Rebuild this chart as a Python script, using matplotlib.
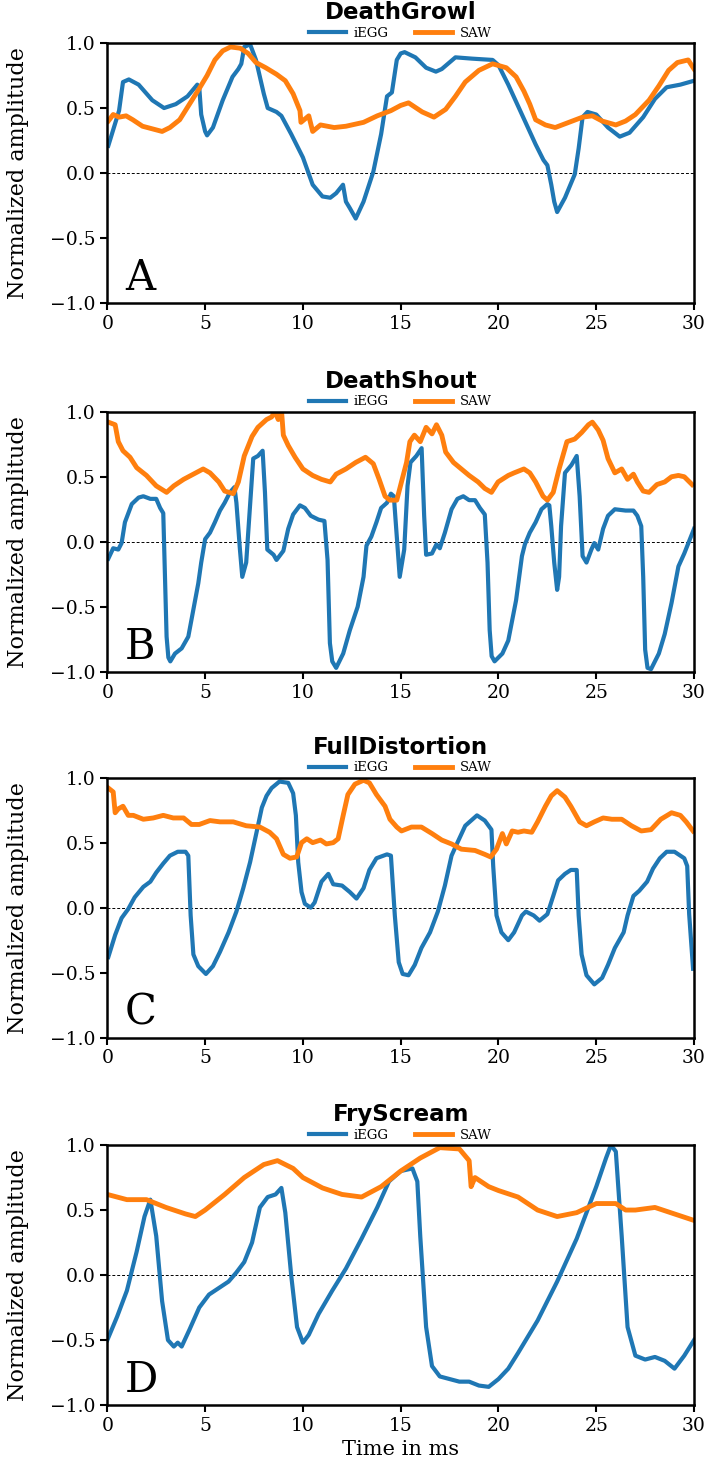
import matplotlib
matplotlib.use("Agg")
import matplotlib.pyplot as plt

plt.rcParams['font.family'] = ['DejaVu Serif']

titles = ["DeathGrowl", "DeathShout", "FullDistortion", "FryScream"]
letters = ["A", "B", "C", "D"]
series_names = ["iEGG", "SAW"]
xticks = [0, 5, 10, 15, 20, 25, 30]
yticks = [-1.0, -0.5, 0.0, 0.5, 1.0]

A_egg = [(0.05,0.21),(0.6,0.48),(0.8,0.70),(1.1,0.72),(1.6,0.68),(2.3,0.56),(2.9,0.50),(3.5,0.53),(4.1,0.59),(4.6,0.68),(4.7,0.66),(4.8,0.45),(5.0,0.32),(5.1,0.29),(5.4,0.35),(5.9,0.56),(6.4,0.74),(6.7,0.80),(6.85,0.84),(7.0,0.97),(7.3,0.99),(7.6,0.87),(8.0,0.61),(8.2,0.50),(8.65,0.47),(8.9,0.44),(9.4,0.30),(10.0,0.12),(10.5,-0.09),(11.0,-0.18),(11.4,-0.19),(11.7,-0.155),(12.05,-0.09),(12.2,-0.22),(12.4,-0.27),(12.7,-0.35),(13.1,-0.22),(13.6,0.01),(14.0,0.30),(14.3,0.59),(14.55,0.62),(14.8,0.87),(15.0,0.92),(15.2,0.93),(15.75,0.89),(16.3,0.81),(16.8,0.78),(17.1,0.80),(17.8,0.89),(18.65,0.88),(19.7,0.87),(20.0,0.83),(20.5,0.68),(21.2,0.45),(21.9,0.22),(22.3,0.10),(22.5,0.06),(22.7,-0.09),(22.85,-0.22),(23.0,-0.30),(23.4,-0.19),(23.9,-0.01),(24.1,0.19),(24.3,0.43),(24.55,0.47),(25.0,0.45),(25.6,0.35),(26.2,0.28),(26.7,0.31),(27.4,0.43),(28.0,0.57),(28.6,0.66),(29.3,0.68),(30.0,0.71)]
A_saw = [(0.05,0.40),(0.3,0.45),(0.6,0.43),(0.96,0.44),(1.3,0.41),(1.8,0.36),(2.3,0.34),(2.8,0.32),(3.2,0.35),(3.7,0.41),(4.2,0.53),(4.7,0.65),(5.1,0.75),(5.5,0.87),(5.9,0.94),(6.3,0.97),(6.8,0.96),(7.2,0.92),(7.6,0.85),(8.1,0.81),(8.65,0.76),(9.1,0.71),(9.5,0.61),(9.85,0.48),(9.9,0.39),(10.3,0.44),(10.5,0.32),(10.9,0.37),(11.6,0.35),(12.2,0.36),(13.1,0.39),(13.8,0.44),(14.5,0.48),(15.0,0.52),(15.4,0.54),(16.1,0.47),(16.7,0.43),(17.3,0.49),(17.8,0.59),(18.3,0.70),(19.0,0.79),(19.7,0.84),(20.4,0.81),(20.9,0.74),(21.3,0.63),(21.6,0.53),(21.9,0.41),(22.4,0.37),(22.9,0.35),(23.6,0.39),(24.3,0.43),(24.8,0.44),(25.3,0.40),(26.0,0.37),(26.5,0.40),(27.0,0.45),(27.7,0.56),(28.2,0.67),(28.7,0.79),(29.15,0.85),(29.7,0.87),(30.0,0.80)]

B_egg = [(0.05,-0.13),(0.3,-0.05),(0.56,-0.06),(0.73,-0.01),(0.9,0.15),(1.25,0.29),(1.6,0.34),(1.84,0.35),(2.2,0.33),(2.5,0.33),(2.7,0.26),(2.86,0.22),(2.95,-0.27),(3.03,-0.73),(3.12,-0.89),(3.22,-0.92),(3.46,-0.86),(3.8,-0.82),(4.14,-0.73),(4.4,-0.52),(4.65,-0.32),(4.8,-0.16),(5.0,0.02),(5.25,0.07),(5.5,0.15),(5.76,0.24),(6.0,0.30),(6.27,0.38),(6.5,0.42),(6.6,0.30),(6.78,-0.06),(6.9,-0.27),(7.1,-0.16),(7.26,0.20),(7.46,0.64),(7.7,0.66),(7.94,0.70),(8.06,0.38),(8.18,-0.06),(8.5,-0.10),(8.65,-0.14),(9.0,-0.07),(9.25,0.10),(9.5,0.21),(9.85,0.28),(10.1,0.26),(10.4,0.20),(10.8,0.17),(11.1,0.16),(11.26,-0.14),(11.38,-0.78),(11.5,-0.92),(11.7,-0.97),(12.06,-0.86),(12.4,-0.68),(12.8,-0.50),(13.1,-0.27),(13.25,-0.03),(13.5,0.04),(13.76,0.15),(14.0,0.26),(14.3,0.30),(14.5,0.37),(14.65,0.35),(14.8,0.04),(14.95,-0.27),(15.18,-0.06),(15.35,0.43),(15.5,0.61),(15.8,0.66),(16.07,0.72),(16.2,0.20),(16.3,-0.10),(16.6,-0.09),(16.83,-0.02),(17.0,-0.05),(17.26,0.07),(17.6,0.25),(17.9,0.33),(18.2,0.35),(18.5,0.32),(18.8,0.32),(19.05,0.26),(19.3,0.21),(19.44,-0.16),(19.55,-0.68),(19.65,-0.88),(19.8,-0.92),(20.2,-0.86),(20.5,-0.76),(20.9,-0.45),(21.2,-0.11),(21.35,-0.02),(21.6,0.07),(21.9,0.15),(22.2,0.25),(22.5,0.29),(22.6,0.28),(22.7,0.12),(22.85,-0.16),(23.0,-0.37),(23.1,-0.27),(23.2,0.12),(23.4,0.53),(23.73,0.59),(24.0,0.66),(24.15,0.35),(24.3,-0.11),(24.5,-0.16),(24.75,-0.06),(24.9,-0.01),(25.1,-0.06),(25.35,0.10),(25.6,0.20),(25.95,0.25),(26.5,0.24),(26.9,0.24),(27.1,0.20),(27.3,0.12),(27.4,-0.27),(27.5,-0.83),(27.62,-0.97),(27.8,-0.98),(28.2,-0.86),(28.5,-0.71),(28.85,-0.47),(29.2,-0.19),(29.5,-0.09),(30.0,0.10)]
B_saw = [(0.05,0.92),(0.4,0.90),(0.56,0.77),(0.8,0.70),(1.16,0.65),(1.5,0.57),(2.0,0.51),(2.5,0.43),(3.03,0.38),(3.4,0.43),(3.9,0.48),(4.4,0.52),(4.9,0.56),(5.25,0.53),(5.7,0.46),(6.0,0.39),(6.44,0.37),(6.7,0.46),(7.0,0.66),(7.4,0.81),(7.7,0.88),(8.14,0.94),(8.4,0.96),(8.57,1.0),(8.74,0.94),(8.9,1.02),(9.0,0.82),(9.25,0.74),(9.6,0.65),(10.0,0.56),(10.5,0.51),(10.95,0.48),(11.4,0.46),(11.7,0.52),(12.2,0.56),(12.7,0.61),(13.2,0.65),(13.6,0.60),(13.9,0.48),(14.2,0.35),(14.45,0.32),(14.8,0.32),(15.04,0.46),(15.3,0.61),(15.47,0.77),(15.7,0.82),(16.0,0.77),(16.3,0.88),(16.6,0.83),(16.83,0.90),(17.1,0.82),(17.3,0.69),(17.7,0.61),(18.1,0.56),(18.5,0.51),(18.96,0.46),(19.3,0.41),(19.64,0.38),(19.98,0.46),(20.5,0.51),(20.8,0.53),(21.3,0.56),(21.6,0.53),(21.9,0.46),(22.28,0.35),(22.5,0.32),(22.8,0.38),(23.1,0.56),(23.5,0.77),(23.9,0.79),(24.25,0.84),(24.6,0.90),(24.8,0.92),(25.1,0.86),(25.35,0.78),(25.6,0.64),(25.95,0.53),(26.3,0.56),(26.6,0.48),(26.9,0.52),(27.1,0.46),(27.4,0.39),(27.7,0.38),(28.1,0.44),(28.5,0.46),(28.85,0.50),(29.2,0.51),(29.5,0.50),(29.9,0.44)]

C_egg = [(0.05,-0.38),(0.4,-0.21),(0.73,-0.08),(1.07,-0.01),(1.4,0.08),(1.84,0.16),(2.2,0.20),(2.5,0.27),(2.86,0.34),(3.2,0.40),(3.6,0.43),(4.0,0.43),(4.14,0.40),(4.26,-0.06),(4.4,-0.36),(4.65,-0.45),(5.04,-0.51),(5.4,-0.45),(5.76,-0.34),(6.2,-0.19),(6.6,-0.03),(6.95,0.15),(7.3,0.35),(7.63,0.58),(7.9,0.77),(8.14,0.86),(8.4,0.92),(8.8,0.97),(9.25,0.96),(9.5,0.88),(9.64,0.71),(9.76,0.35),(9.93,0.12),(10.1,0.03),(10.4,0.0),(10.6,0.04),(10.95,0.20),(11.3,0.26),(11.55,0.18),(12.0,0.17),(12.4,0.12),(12.74,0.07),(13.1,0.15),(13.4,0.29),(13.76,0.38),(14.3,0.41),(14.5,0.40),(14.7,-0.06),(14.9,-0.42),(15.1,-0.51),(15.4,-0.52),(15.72,-0.44),(16.06,-0.31),(16.5,-0.19),(16.9,-0.03),(17.26,0.17),(17.6,0.40),(17.9,0.50),(18.3,0.63),(18.9,0.71),(19.3,0.67),(19.64,0.60),(19.73,0.32),(19.9,-0.06),(20.15,-0.19),(20.5,-0.25),(20.8,-0.19),(21.2,-0.06),(21.4,-0.03),(21.8,-0.06),(22.1,-0.10),(22.5,-0.05),(22.8,0.09),(23.05,0.21),(23.4,0.26),(23.7,0.29),(24.0,0.29),(24.1,-0.06),(24.25,-0.36),(24.5,-0.52),(24.9,-0.59),(25.3,-0.54),(25.6,-0.44),(25.95,-0.31),(26.4,-0.19),(26.6,-0.06),(26.9,0.09),(27.2,0.13),(27.6,0.20),(27.9,0.30),(28.25,0.38),(28.6,0.43),(29.0,0.43),(29.5,0.38),(29.65,0.32),(29.75,-0.05),(29.95,-0.47)]
C_saw = [(0.05,0.92),(0.3,0.89),(0.4,0.73),(0.56,0.76),(0.8,0.78),(1.07,0.71),(1.33,0.71),(1.84,0.68),(2.35,0.69),(2.86,0.71),(3.37,0.69),(3.9,0.69),(4.3,0.64),(4.7,0.64),(5.25,0.67),(5.76,0.66),(6.44,0.66),(7.1,0.63),(7.8,0.62),(8.3,0.58),(8.65,0.53),(9.0,0.41),(9.34,0.38),(9.68,0.39),(9.93,0.50),(10.2,0.53),(10.5,0.50),(10.9,0.52),(11.2,0.49),(11.55,0.50),(11.8,0.53),(12.06,0.71),(12.3,0.87),(12.66,0.95),(13.1,0.98),(13.4,0.96),(13.76,0.87),(14.2,0.78),(14.45,0.68),(14.8,0.62),(15.04,0.59),(15.55,0.62),(16.06,0.62),(16.6,0.57),(17.1,0.52),(17.6,0.49),(18.1,0.45),(18.8,0.44),(19.3,0.41),(19.6,0.39),(19.9,0.45),(20.2,0.57),(20.4,0.49),(20.7,0.59),(21.0,0.58),(21.3,0.59),(21.7,0.58),(22.0,0.66),(22.4,0.78),(22.7,0.86),(23.0,0.90),(23.4,0.85),(23.7,0.78),(24.15,0.66),(24.5,0.63),(24.9,0.66),(25.35,0.69),(25.8,0.68),(26.3,0.68),(26.8,0.63),(27.3,0.59),(27.8,0.60),(28.3,0.68),(28.85,0.73),(29.3,0.71),(29.6,0.66),(29.95,0.59)]

D_egg = [(0.0,-0.50),(0.5,-0.32),(1.0,-0.12),(1.5,0.18),(1.9,0.45),(2.2,0.58),(2.5,0.30),(2.8,-0.20),(3.1,-0.50),(3.4,-0.55),(3.6,-0.52),(3.8,-0.55),(4.2,-0.42),(4.7,-0.25),(5.2,-0.15),(5.7,-0.10),(6.2,-0.05),(6.6,0.02),(7.0,0.10),(7.4,0.25),(7.8,0.52),(8.2,0.60),(8.6,0.62),(8.9,0.67),(9.1,0.48),(9.4,0.00),(9.7,-0.40),(10.0,-0.52),(10.3,-0.46),(10.8,-0.30),(11.5,-0.12),(12.2,0.05),(13.0,0.28),(13.8,0.52),(14.4,0.72),(15.0,0.80),(15.6,0.82),(15.85,0.72),(16.0,0.30),(16.3,-0.40),(16.6,-0.70),(17.0,-0.78),(17.5,-0.80),(18.0,-0.82),(18.5,-0.82),(19.0,-0.85),(19.5,-0.86),(20.0,-0.80),(20.5,-0.72),(21.0,-0.60),(22.0,-0.35),(23.0,-0.05),(24.0,0.28),(24.5,0.48),(25.0,0.68),(25.5,0.90),(25.75,1.0),(26.0,0.95),(26.3,0.30),(26.6,-0.40),(27.0,-0.62),(27.5,-0.65),(28.0,-0.63),(28.5,-0.66),(29.0,-0.72),(29.5,-0.62),(30.0,-0.50)]
D_saw = [(0.0,0.62),(1.0,0.58),(2.0,0.58),(2.5,0.55),(3.0,0.52),(4.0,0.47),(4.5,0.45),(5.0,0.50),(6.0,0.62),(7.0,0.75),(8.0,0.85),(8.7,0.88),(9.5,0.82),(10.0,0.75),(11.0,0.67),(12.0,0.62),(13.0,0.60),(14.0,0.68),(15.0,0.80),(16.0,0.90),(17.0,0.98),(18.0,0.97),(18.5,0.88),(18.6,0.68),(18.8,0.75),(19.5,0.68),(20.0,0.65),(21.0,0.60),(22.0,0.50),(23.0,0.45),(24.0,0.48),(25.0,0.55),(26.0,0.55),(26.5,0.50),(27.0,0.50),(28.0,0.52),(29.0,0.47),(30.0,0.42)]

panels = [(A_egg, A_saw), (B_egg, B_saw), (C_egg, C_saw), (D_egg, D_saw)]
colors = ["#1f77b4", "#ff7f0e"]
widths = [3.0, 3.5]

fig = plt.figure(figsize=(7.08, 14.79), dpi=100)
left, width, height = 0.1516, 0.8287, 0.1758
bottoms = [0.7951, 0.5458, 0.2984, 0.0500]

for i, (egg, saw) in enumerate(panels):
    ax = fig.add_axes([left, bottoms[i], width, height])
    for data, col, lw, name in zip((egg, saw), colors, widths, series_names):
        t = [p[0] for p in data]
        v = [p[1] for p in data]
        ax.plot(t, v, color=col, lw=lw, label=name, solid_joinstyle='round')
    ax.axhline(0, color='k', lw=0.7, ls=(0, (3, 2)), zorder=0)
    ax.set_xlim(0, 30)
    ax.set_ylim(-1, 1)
    ax.set_xticks(xticks)
    ax.set_yticks(yticks)
    ax.tick_params(labelsize=13.5, width=1.5, length=5)
    for sp in ax.spines.values():
        sp.set_linewidth(1.8)
    ax.set_ylabel("Normalized amplitude", fontsize=16)
    ax.yaxis.set_label_coords(-0.134, 0.5)
    ax.set_title(titles[i], fontfamily='DejaVu Sans', fontweight='bold',
                 fontsize=16.5, pad=17)
    ax.legend(loc='lower center', bbox_to_anchor=(0.5, 1.0), ncol=2,
              frameon=False, fontsize=9.5, handlelength=2.8,
              handletextpad=0.6, columnspacing=2.0, borderaxespad=0.15,
              borderpad=0.1)
    ax.text(0.03, 0.05, letters[i], transform=ax.transAxes, fontsize=30,
            ha='left', va='baseline')
    if i == 3:
        ax.set_xlabel("Time in ms", fontsize=15)

fig.savefig("out.png", dpi=100)
